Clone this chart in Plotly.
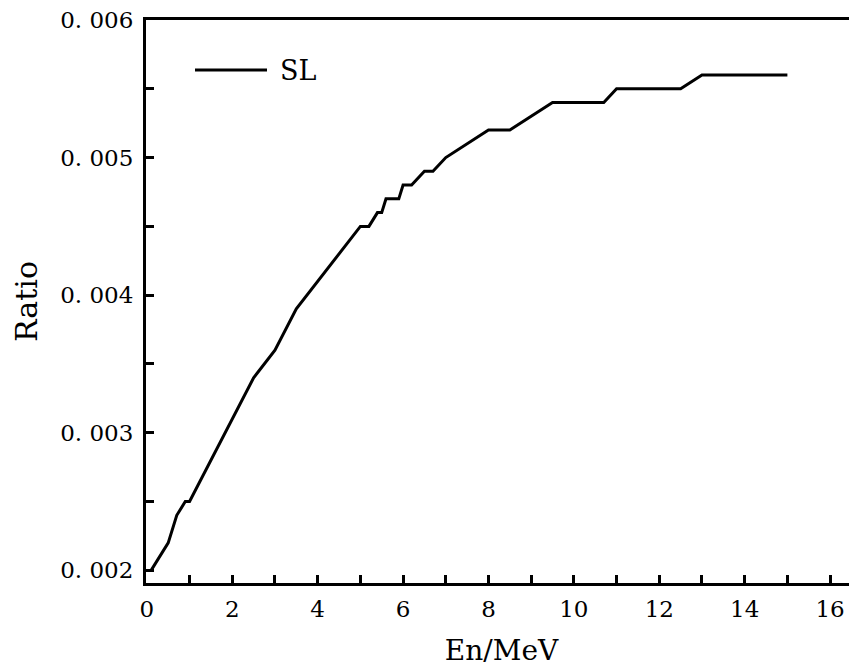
import plotly.graph_objects as go

energy = [0.1, 0.5, 0.7, 0.9, 1.0, 2.5, 3.0, 3.5, 5.0, 5.2, 5.4, 5.5, 5.6, 5.9, 6.0, 6.2,
          6.5, 6.7, 7.0, 8.0, 8.5, 9.5, 10.7, 11.0, 12.5, 13.0, 15.0]
ratio = [0.0020, 0.0022, 0.0024, 0.0025, 0.0025, 0.0034, 0.0036, 0.0039, 0.0045, 0.0045,
         0.0046, 0.0046, 0.0047, 0.0047, 0.0048, 0.0048, 0.0049, 0.0049, 0.0050, 0.0052,
         0.0052, 0.0054, 0.0054, 0.0055, 0.0055, 0.0056, 0.0056]

x_ticks = [0, 2, 4, 6, 8, 10, 12, 14, 16]
y_ticks = [0.002, 0.003, 0.004, 0.005, 0.006]
y_ticktext = ["0. 002", "0. 003", "0. 004", "0. 005", "0. 006"]
series_name = "SL"

FONT = "DejaVu Serif"

# plot area: 711 x 563 px (page x 146..857, y 20..583)
PW, PH = 711, 563

fig = go.Figure()
fig.add_trace(go.Scatter(x=energy, y=ratio, mode="lines", name=series_name,
                         line=dict(color="black", width=3), showlegend=False))

# legend drawn manually
fig.add_shape(type="line", xref="paper", yref="paper",
              x0=(195 - 146) / PW, x1=(267 - 146) / PW,
              y0=(583 - 70) / PH, y1=(583 - 70) / PH,
              line=dict(color="black", width=3))
fig.add_annotation(text=series_name, xref="paper", yref="paper",
                   x=(278 - 146) / PW, y=(583 - 71) / PH, xanchor="left", yanchor="middle",
                   showarrow=False, font=dict(family=FONT, size=27, color="black"))

fig.update_layout(
    width=849, height=659,
    margin=dict(l=138, r=0, t=12, b=84),
    paper_bgcolor="white", plot_bgcolor="white",
    font=dict(family=FONT, size=23, color="black"),
    xaxis=dict(
        range=[-0.02, 16.63], tickvals=x_ticks, ticks="inside", ticklen=8, tickwidth=3,
        tickcolor="black", showline=True, linecolor="black", linewidth=3, mirror=True,
        showgrid=False, zeroline=False, ticklabelstandoff=3, ticklabeloverflow="allow",
        minor=dict(dtick=1, tick0=0, ticks="inside", ticklen=8, tickwidth=3, tickcolor="black"),
        title=dict(text="En/MeV", font=dict(family=FONT, size=28), standoff=20),
        tickfont=dict(family=FONT, size=23),
    ),
    yaxis=dict(
        range=[0.001908, 0.006], tickvals=y_ticks, ticktext=y_ticktext, ticks="inside",
        ticklen=8, tickwidth=3, tickcolor="black", showline=True, linecolor="black",
        linewidth=3, showgrid=False, zeroline=False, ticklabelstandoff=5,
        ticklabeloverflow="allow",
        minor=dict(dtick=0.0005, tick0=0.002, ticks="inside", ticklen=8, tickwidth=3,
                   tickcolor="black"),
        title=dict(text="Ratio", font=dict(family=FONT, size=30), standoff=14),
        tickfont=dict(family=FONT, size=23),
    ),
)

fig.write_html("out.html")
